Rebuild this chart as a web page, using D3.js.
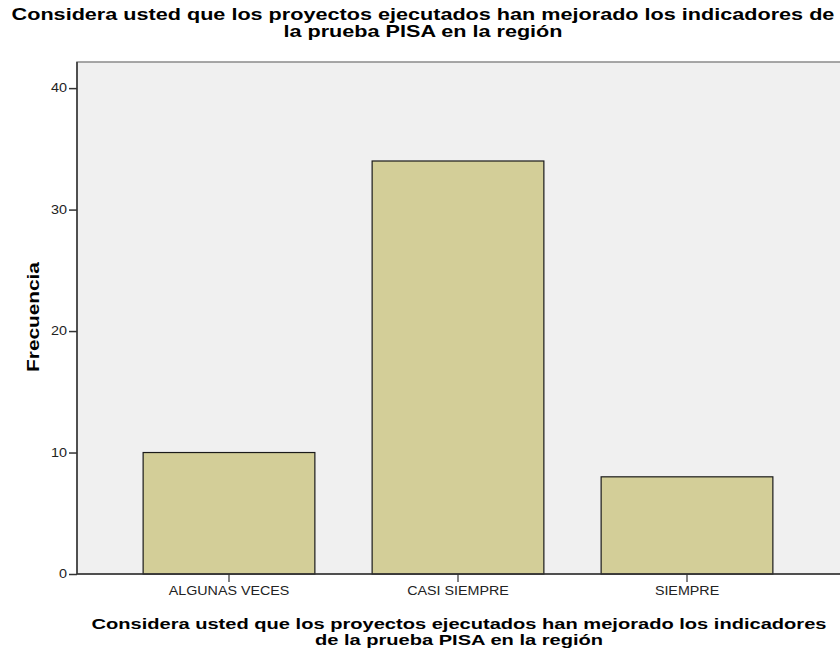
<!DOCTYPE html>
<html><head><meta charset="utf-8">
<script src="https://cdn.jsdelivr.net/npm/d3@7"></script>
<style>body{margin:0;background:#fff}svg{display:block}</style>
</head><body>
<script>
const categories = ["ALGUNAS VECES", "CASI SIEMPRE", "SIEMPRE"];
const frecuencias = [10, 34, 8];
const yTicks = [0, 10, 20, 30, 40];
const titleLines = ["Considera usted que los proyectos ejecutados han mejorado los indicadores de", "la prueba PISA en la región"];
const xTitleLines = ["Considera usted que los proyectos ejecutados han mejorado los indicadores", "de la prueba PISA en la región"];
const yTitle = "Frecuencia";

const W = 840, H = 653;
const plot = {left: 77, top: 62, right: 842, bottom: 574};
const svg = d3.select("body").append("svg").attr("width", W).attr("height", H);
const font = "Arial, 'Liberation Sans', sans-serif";

function stretch(sel, f) {
  sel.each(function () {
    const len = this.getComputedTextLength();
    d3.select(this).attr("textLength", len * f).attr("lengthAdjust", "spacingAndGlyphs");
  });
}

const y = d3.scaleLinear().domain([0, 42.15]).range([plot.bottom, plot.top]);
const x = d3.scaleBand().domain(categories).range([114.5, 801.5]).paddingInner(0.25).paddingOuter(0.125);

svg.append("rect").attr("x", plot.left).attr("y", plot.top)
  .attr("width", plot.right - plot.left).attr("height", plot.bottom - plot.top)
  .attr("fill", "#f0f0f0").attr("stroke", "#8a8a8a").attr("stroke-width", 1.5);

svg.selectAll("rect.bar").data(frecuencias).enter().append("rect").attr("class", "bar")
  .attr("x", (d, i) => x(categories[i]))
  .attr("y", d => y(d))
  .attr("width", x.bandwidth())
  .attr("height", d => y(0) - y(d))
  .attr("fill", "#d3ce98").attr("stroke", "#1a1a1a").attr("stroke-width", 1.2);

const yAxis = svg.append("g").attr("transform", `translate(${plot.left},0)`)
  .call(d3.axisLeft(y).tickValues(yTicks).tickSize(8).tickPadding(2).tickSizeOuter(0));
yAxis.select(".domain").attr("d", `M0,${plot.top}V${plot.bottom}`).attr("stroke", "#333").attr("stroke-width", 1.5);
yAxis.selectAll(".tick line").attr("stroke", "#333").attr("stroke-width", 1.5);
yAxis.selectAll("text").attr("font-family", font).attr("font-size", 12).attr("fill", "#222");
stretch(yAxis.selectAll("text"), 1.2);

const xAxis = svg.append("g").attr("transform", `translate(0,${plot.bottom})`)
  .call(d3.axisBottom(x).tickSize(8).tickPadding(4).tickSizeOuter(0));
xAxis.select(".domain").attr("d", `M${plot.left},0H${plot.right}`).attr("stroke", "#333").attr("stroke-width", 1.5);
xAxis.selectAll(".tick line").attr("stroke", "#333").attr("stroke-width", 1.2);
xAxis.selectAll("text").attr("font-family", font).attr("font-size", 12).attr("fill", "#222");
stretch(xAxis.selectAll("text"), 1.19);

const t = svg.append("text").attr("font-family", font).attr("font-weight", "bold").attr("font-size", 16.5)
  .attr("text-anchor", "middle").selectAll("tspan").data(titleLines).enter().append("tspan")
  .attr("x", 423).attr("y", (d, i) => 20 + i * 16.5).text(d => d);
stretch(t, 1.31);

const xt = svg.append("text").attr("font-family", font).attr("font-weight", "bold").attr("font-size", 15.5)
  .attr("text-anchor", "middle").selectAll("tspan").data(xTitleLines).enter().append("tspan")
  .attr("x", 459).attr("y", (d, i) => 629 + i * 15.5).text(d => d);
stretch(xt, 1.295);

const yt = svg.append("text").attr("font-family", font).attr("font-weight", "bold").attr("font-size", 16)
  .attr("text-anchor", "middle").attr("transform", `translate(39,317) rotate(-90)`).text(yTitle);
stretch(yt, 1.3);
</script>
</body></html>
